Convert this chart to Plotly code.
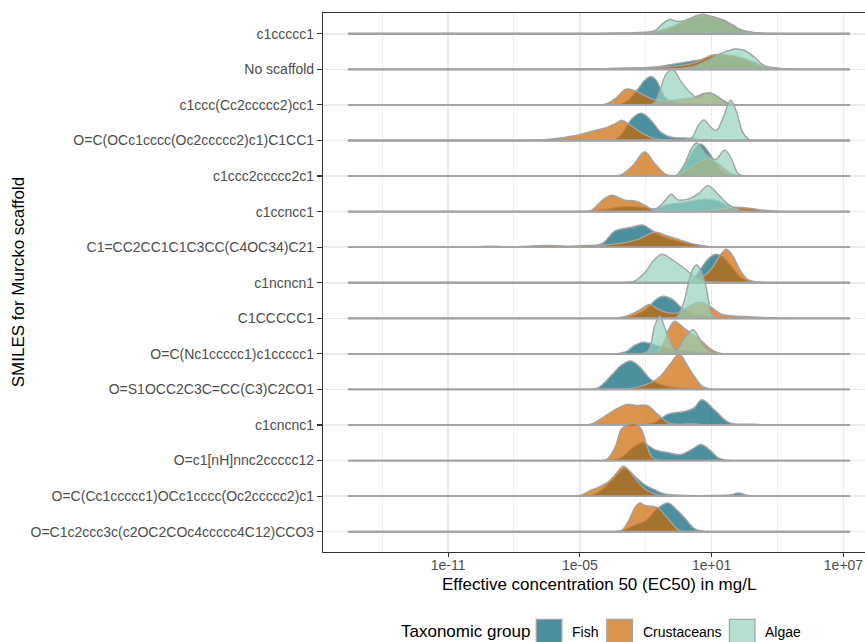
import numpy as np
import plotly.graph_objects as go

# ---------------- data ----------------
# Murcko scaffolds, top row first
CATEGORIES = [
    "c1ccccc1",
    "No scaffold",
    "c1ccc(Cc2ccccc2)cc1",
    "O=C(OCc1cccc(Oc2ccccc2)c1)C1CC1",
    "c1ccc2ccccc2c1",
    "c1ccncc1",
    "C1=CC2CC1C1C3CC(C4OC34)C21",
    "c1ncncn1",
    "C1CCCCC1",
    "O=C(Nc1ccccc1)c1ccccc1",
    "O=S1OCC2C3C=CC(C3)C2CO1",
    "c1cncnc1",
    "O=c1[nH]nnc2ccccc12",
    "O=C(Cc1ccccc1)OCc1cccc(Oc2ccccc2)c1",
    "O=C1c2ccc3c(c2OC2COc4ccccc4C12)CCO3",
]
GROUPS = ["Fish", "Crustaceans", "Algae"]
GROUP_COLORS = {
    "Fish": "rgba(0,95,115,0.7)",
    "Crustaceans": "rgba(202,103,2,0.7)",
    "Algae": "rgba(148,210,189,0.7)",
}

# full range (log10 mg/L) over which the ridgelines are drawn
LOG_MIN, LOG_MAX = -15.56, 7.30

X_TICKS = [-11, -5, 1, 7]
X_TICK_LABELS = ["1e-11", "1e-05", "1e+01", "1e+07"]
X_MINOR = [-14, -8, -2, 4]

# ridge profiles: (log10 EC50, scaled density height in row units)
FISH = {
    "c1ccccc1": [(-2.2, 0), (-1.6, 0.04), (-1.0, 0.14), (-0.4, 0.30), (0.2, 0.44), (0.6, 0.48), (1.2, 0.42), (1.8, 0.25), (2.5, 0.08), (3.2, 0.02), (3.8, 0)],
    "No scaffold": [(-6.0, 0), (-5.0, 0.01), (-3.0, 0.03), (-1.5, 0.07), (-0.8, 0.14), (0.0, 0.22), (0.5, 0.27), (1.0, 0.36), (1.5, 0.40), (2.0, 0.37), (2.5, 0.28), (3.0, 0.15), (3.5, 0.05), (4.3, 0.01), (5.0, 0)],
    "c1ccc(Cc2ccccc2)cc1": [(-3.2, 0), (-2.8, 0.12), (-2.35, 0.45), (-2.05, 0.69), (-1.77, 0.80), (-1.52, 0.69), (-1.29, 0.40), (-1.06, 0.17), (-0.5, 0.05), (0.5, 0.02), (1.5, 0)],
    "O=C(OCc1cccc(Oc2ccccc2)c1)C1CC1": [(-4.0, 0), (-3.3, 0.05), (-3.0, 0.25), (-2.65, 0.60), (-2.2, 0.77), (-1.74, 0.55), (-1.29, 0.22), (-0.83, 0.09), (-0.23, 0.07), (0.2, 0.05), (0.5, 0.01), (0.8, 0)],
    "c1ccc2ccccc2c1": [(-0.9, 0), (-0.61, 0.02), (-0.23, 0.28), (0.15, 0.72), (0.5, 0.90), (0.83, 0.70), (1.14, 0.40), (1.44, 0.13), (1.82, 0.02), (2.2, 0)],
    "c1ccncc1": [(-4.5, 0), (-3.86, 0.05), (-3.0, 0.13), (-2.2, 0.12), (-1.6, 0.08), (-1.14, 0.18), (-0.23, 0.26), (0.68, 0.35), (1.29, 0.30), (1.89, 0.12), (2.8, 0.06), (3.56, 0.03), (4.2, 0)],
    "C1=CC2CC1C1C3CC(C4OC34)C21": [(-4.6, 0), (-3.94, 0.12), (-3.41, 0.45), (-2.65, 0.56), (-2.12, 0.62), (-1.74, 0.48), (-1.36, 0.33), (-0.83, 0.22), (-0.23, 0.12), (0.38, 0.06), (1.0, 0)],
    "c1ncncn1": [(-0.3, 0), (0.08, 0.05), (0.53, 0.42), (0.91, 0.71), (1.21, 0.80), (1.5, 0.72), (1.9, 0.45), (2.3, 0.15), (2.7, 0.03), (3.1, 0)],
    "C1CCCCC1": [(-3.0, 0), (-2.5, 0.08), (-1.97, 0.25), (-1.59, 0.50), (-1.21, 0.62), (-0.76, 0.52), (-0.38, 0.30), (0.0, 0.15), (0.5, 0.08), (1.0, 0.03), (1.6, 0)],
    "O=C(Nc1ccccc1)c1ccccc1": [(-3.4, 0), (-2.88, 0.07), (-2.5, 0.24), (-2.12, 0.33), (-1.74, 0.28), (-1.29, 0.20), (-0.7, 0.12), (-0.2, 0.08), (0.4, 0.04), (1.0, 0.01), (1.4, 0)],
    "O=S1OCC2C3C=CC(C3)C2CO1": [(-4.7, 0), (-4.17, 0.05), (-3.56, 0.40), (-3.11, 0.68), (-2.68, 0.80), (-2.27, 0.63), (-1.89, 0.35), (-1.59, 0.20), (-1.14, 0.10), (-0.6, 0.04), (0.0, 0.01), (0.5, 0)],
    "c1cncnc1": [(-2.3, 0), (-1.63, 0.05), (-1.0, 0.30), (-0.23, 0.38), (0.2, 0.48), (0.55, 0.71), (1.17, 0.40), (1.79, 0.07), (2.87, 0.02), (3.5, 0)],
    "O=c1[nH]nnc2ccccc12": [(-3.6, 0), (-3.1, 0.08), (-2.7, 0.30), (-2.3, 0.46), (-2.12, 0.50), (-1.59, 0.31), (-0.98, 0.22), (-0.38, 0.17), (0.08, 0.31), (0.53, 0.45), (0.98, 0.26), (1.29, 0.08), (1.67, 0.01), (2.0, 0)],
    "O=C(Cc1ccccc1)OCc1cccc(Oc2ccccc2)c1": [(-4.8, 0), (-4.32, 0.04), (-3.56, 0.42), (-2.95, 0.77), (-2.5, 0.56), (-2.05, 0.32), (-1.59, 0.18), (-1.14, 0.06), (-0.23, 0.02), (1.0, 0.02), (1.89, 0.04), (2.2, 0.09), (2.65, 0.02), (3.0, 0)],
    "O=C1c2ccc3c(c2OC2COc4ccccc4C12)CCO3": [(-3.4, 0), (-2.95, 0.06), (-2.5, 0.18), (-2.0, 0.30), (-1.44, 0.67), (-0.98, 0.81), (-0.68, 0.67), (-0.23, 0.39), (0.23, 0.08), (0.68, 0.01), (1.0, 0)],
}

CRUSTACEANS = {
    "c1ccccc1": [(-4.0, 0), (-3.3, 0.02), (-2.5, 0.03), (-1.5, 0.08), (-0.8, 0.20), (-0.3, 0.34), (0.2, 0.45), (0.6, 0.53), (1.0, 0.48), (1.5, 0.40), (1.9, 0.27), (2.3, 0.12), (2.8, 0.04), (3.5, 0)],
    "No scaffold": [(-5.5, 0), (-5.0, 0.01), (-3.0, 0.03), (-1.5, 0.06), (-0.5, 0.10), (0.3, 0.20), (1.0, 0.40), (1.5, 0.42), (2.0, 0.38), (2.5, 0.30), (3.0, 0.18), (3.5, 0.08), (4.2, 0.02), (5.0, 0)],
    "c1ccc(Cc2ccccc2)cc1": [(-4.2, 0), (-3.8, 0.03), (-3.4, 0.17), (-2.9, 0.44), (-2.5, 0.40), (-2.05, 0.26), (-1.6, 0.14), (-1.1, 0.12), (-0.5, 0.15), (0.2, 0.22), (0.7, 0.33), (1.0, 0.32), (1.4, 0.18), (1.8, 0.04), (2.3, 0)],
    "O=C(OCc1cccc(Oc2ccccc2)c1)C1CC1": [(-7.5, 0), (-6.6, 0.02), (-5.8, 0.08), (-5.1, 0.15), (-4.3, 0.28), (-3.8, 0.36), (-3.3, 0.50), (-3.1, 0.57), (-2.65, 0.41), (-2.2, 0.22), (-1.74, 0.08), (-1.3, 0.02), (-0.8, 0)],
    "c1ccc2ccccc2c1": [(-3.5, 0), (-3.1, 0.04), (-2.58, 0.30), (-2.05, 0.68), (-1.59, 0.35), (-1.06, 0.04), (-0.6, 0.02), (-0.2, 0.15), (0.23, 0.32), (0.83, 0.49), (1.29, 0.35), (1.89, 0.07), (2.3, 0)],
    "c1ccncc1": [(-4.9, 0), (-4.47, 0.04), (-4.02, 0.30), (-3.56, 0.46), (-2.95, 0.32), (-2.5, 0.30), (-2.05, 0.18), (-1.74, 0.07), (-1.3, 0.02), (0.0, 0.02), (1.0, 0.04), (1.9, 0.12), (2.8, 0.09), (3.3, 0.04), (3.8, 0)],
    "C1=CC2CC1C1C3CC(C4OC34)C21": [(-10.3, 0), (-9.7, 0.01), (-9.1, 0.03), (-8.3, 0.01), (-7.3, 0.03), (-6.5, 0.05), (-5.6, 0.03), (-4.6, 0.05), (-3.9, 0.06), (-3.26, 0.10), (-2.35, 0.22), (-1.59, 0.42), (-0.98, 0.31), (-0.38, 0.19), (0.08, 0.10), (0.53, 0.04), (1.0, 0)],
    "c1ncncn1": [(0.1, 0), (0.53, 0.14), (0.98, 0.38), (1.36, 0.75), (1.67, 0.94), (1.97, 0.75), (2.27, 0.38), (2.65, 0.09), (3.11, 0.02), (3.6, 0)],
    "C1CCCCC1": [(-3.4, 0), (-2.95, 0.05), (-2.35, 0.21), (-1.82, 0.39), (-1.44, 0.26), (-1.0, 0.16), (-0.53, 0.16), (0.08, 0.38), (0.53, 0.45), (0.98, 0.31), (1.44, 0.12), (2.5, 0.05), (4.0, 0.01), (4.6, 0)],
    "O=C(Nc1ccccc1)c1ccccc1": [(-1.8, 0), (-1.5, 0.05), (-1.21, 0.28), (-0.91, 0.75), (-0.68, 0.92), (-0.3, 0.75), (0.08, 0.57), (0.45, 0.42), (0.83, 0.19), (1.14, 0.07), (1.5, 0)],
    "O=S1OCC2C3C=CC(C3)C2CO1": [(-3.0, 0), (-2.5, 0.05), (-1.74, 0.20), (-1.29, 0.40), (-0.91, 0.70), (-0.48, 0.99), (-0.15, 0.72), (0.23, 0.35), (0.61, 0.07), (0.98, 0.01), (1.3, 0)],
    "c1cncnc1": [(-4.9, 0), (-4.42, 0.04), (-3.49, 0.40), (-2.87, 0.58), (-2.4, 0.55), (-1.94, 0.55), (-1.47, 0.31), (-1.0, 0.07), (-0.5, 0.02), (0.1, 0.04), (0.6, 0.01), (1.0, 0)],
    "O=c1[nH]nnc2ccccc12": [(-4.2, 0), (-3.79, 0.03), (-3.41, 0.36), (-3.11, 0.88), (-2.8, 1.02), (-2.5, 1.04), (-2.2, 0.88), (-1.97, 0.45), (-1.74, 0.12), (-1.52, 0.02), (-1.2, 0)],
    "O=C(Cc1ccccc1)OCc1cccc(Oc2ccccc2)c1": [(-5.6, 0), (-5.0, 0.02), (-4.62, 0.13), (-4.17, 0.25), (-3.71, 0.40), (-3.33, 0.65), (-3.03, 0.84), (-2.8, 0.75), (-2.5, 0.51), (-2.05, 0.21), (-1.59, 0.06), (-1.1, 0.01), (-0.7, 0)],
    "O=C1c2ccc3c(c2OC2COc4ccccc4C12)CCO3": [(-3.5, 0), (-3.11, 0.03), (-2.8, 0.29), (-2.5, 0.67), (-2.27, 0.81), (-2.05, 0.74), (-1.74, 0.72), (-1.44, 0.67), (-1.14, 0.48), (-0.83, 0.25), (-0.53, 0.06), (-0.2, 0)],
}

ALGAE = {
    "c1ccccc1": [(-2.6, 0), (-2.0, 0.02), (-1.6, 0.08), (-1.2, 0.30), (-0.9, 0.40), (-0.6, 0.35), (-0.3, 0.36), (0.2, 0.48), (0.55, 0.55), (0.9, 0.50), (1.3, 0.43), (1.7, 0.30), (2.1, 0.16), (2.6, 0.06), (3.2, 0.01), (4.0, 0)],
    "No scaffold": [(-1.0, 0), (-0.3, 0.03), (0.3, 0.10), (0.8, 0.25), (1.3, 0.41), (1.7, 0.51), (2.05, 0.57), (2.5, 0.53), (2.95, 0.34), (3.4, 0.10), (4.0, 0.03), (4.6, 0)],
    "c1ccc(Cc2ccccc2)cc1": [(-1.8, 0), (-1.59, 0.07), (-1.36, 0.41), (-1.06, 0.88), (-0.76, 0.99), (-0.38, 0.64), (0.08, 0.31), (0.38, 0.20), (0.68, 0.31), (0.98, 0.33), (1.29, 0.22), (1.59, 0.08), (1.9, 0.01), (2.3, 0)],
    "O=C(OCc1cccc(Oc2ccccc2)c1)C1CC1": [(-0.2, 0), (0.1, 0.08), (0.38, 0.41), (0.65, 0.58), (0.98, 0.36), (1.21, 0.28), (1.52, 0.64), (1.86, 1.13), (2.12, 0.83), (2.42, 0.22), (2.73, 0.02), (3.0, 0)],
    "c1ccc2ccccc2c1": [(-0.9, 0), (-0.61, 0.02), (-0.23, 0.35), (0.1, 0.80), (0.32, 0.93), (0.68, 0.66), (0.98, 0.50), (1.2, 0.47), (1.59, 0.73), (1.89, 0.50), (2.2, 0.07), (2.5, 0)],
    "c1ccncc1": [(-1.9, 0), (-1.52, 0.07), (-1.14, 0.30), (-0.83, 0.49), (-0.53, 0.33), (-0.08, 0.35), (0.38, 0.49), (0.83, 0.73), (1.29, 0.49), (1.74, 0.21), (2.05, 0.10), (2.5, 0.01), (2.8, 0)],
    "c1ncncn1": [(-3.0, 0), (-2.5, 0.05), (-2.05, 0.28), (-1.59, 0.66), (-1.26, 0.80), (-0.83, 0.66), (-0.38, 0.47), (0.08, 0.24), (0.38, 0.09), (0.8, 0.02), (1.2, 0)],
    "C1CCCCC1": [(-0.9, 0), (-0.61, 0.02), (-0.3, 0.40), (-0.05, 1.0), (0.15, 1.40), (0.32, 1.50), (0.5, 1.35), (0.72, 0.95), (0.86, 0.50), (1.0, 0.12), (1.2, 0.01), (1.4, 0)],
    "O=C(Nc1ccccc1)c1ccccc1": [(-2.3, 0), (-1.89, 0.09), (-1.59, 0.80), (-1.36, 1.06), (-1.14, 0.75), (-0.91, 0.38), (-0.61, 0.09), (-0.23, 0.45), (0.15, 0.68), (0.45, 0.42), (0.68, 0.19), (0.98, 0.05), (1.3, 0)],
}

GROUP_DATA = {"Fish": FISH, "Crustaceans": CRUSTACEANS, "Algae": ALGAE}

# ---------------- figure ----------------
W, H = 865, 642
# panel edges in pixels: left 323.3, top 12.5, bottom 552; right edge runs past the window
ML, MR, MT = 323.3, 0, 12.5
MB = H - 552
PW, PH = W - ML - MR, H - MT - MB

def px(x):  # pixel -> paper x
    return (x - ML) / PW

def py(y):  # pixel -> paper y
    return (H - MB - y) / PH

n = len(CATEGORIES)
row_y = {cat: n - i for i, cat in enumerate(CATEGORIES)}

OUTLINE = "#A3A3A3"
FONT = "Liberation Sans, Arial, Helvetica, sans-serif"
TICK_SIZE = 14

fig = go.Figure()
for cat in CATEGORIES:
    y0 = row_y[cat]
    for g in GROUPS:
        pts = GROUP_DATA[g].get(cat)
        if not pts:
            continue
        # filled ridge with its outline
        fig.add_trace(go.Scatter(
            x=10.0 ** np.array([p[0] for p in pts]),
            y=y0 + np.array([p[1] for p in pts]),
            mode="lines",
            fill="toself",
            fillcolor=GROUP_COLORS[g],
            line=dict(color=OUTLINE, width=1.4, shape="spline", smoothing=1.0),
            hoverinfo="skip",
            showlegend=False,
        ))
        # the ridgeline's flat part over the full data range
        fig.add_trace(go.Scatter(
            x=[10.0 ** LOG_MIN, 10.0 ** LOG_MAX],
            y=[y0, y0],
            mode="lines",
            line=dict(color=OUTLINE, width=1.8),
            hoverinfo="skip",
            showlegend=False,
        ))

fig.update_layout(
    width=W, height=H,
    margin=dict(l=ML, r=MR, t=MT, b=MB, pad=0),
    paper_bgcolor="white", plot_bgcolor="white",
    font=dict(family=FONT, size=TICK_SIZE, color="#4D4D4D"),
    showlegend=False,
    hovermode=False,
    xaxis=dict(
        type="log",
        range=[-16.695, 7.98],
        tickmode="array",
        tickvals=[10.0 ** t for t in X_TICKS],
        ticktext=X_TICK_LABELS,
        ticks="outside", ticklen=4, tickwidth=1.1, tickcolor="#333333",
        tickfont=dict(size=TICK_SIZE, color="#4D4D4D", family=FONT),
        ticklabelstandoff=-4,
        ticklabeloverflow="allow",
        showgrid=True, gridcolor="#EBEBEB", gridwidth=1.5,
        minor=dict(tickmode="array", tickvals=[10.0 ** t for t in X_MINOR],
                   showgrid=True, gridcolor="#EBEBEB", gridwidth=0.8, ticks=""),
        showline=True, linecolor="#333333", linewidth=1.1, mirror=True,
        zeroline=False, automargin=False,
    ),
    yaxis=dict(
        range=[0.430, 15.584],
        tickmode="array",
        tickvals=[row_y[c] for c in CATEGORIES],
        ticktext=CATEGORIES,
        ticks="outside", ticklen=5, tickwidth=1.1, tickcolor="#333333",
        tickfont=dict(size=TICK_SIZE, color="#4D4D4D", family=FONT),
        showgrid=True, gridcolor="#EBEBEB", gridwidth=1.5,
        showline=True, linecolor="#333333", linewidth=1.1, mirror=False,
        zeroline=False, automargin=False,
    ),
)

annotations = [
    dict(text="Effective concentration 50 (EC50) in mg/L", xref="paper", yref="paper",
         x=px(599.5), y=py(585), xanchor="center", yanchor="middle", showarrow=False,
         font=dict(size=17, color="black", family=FONT)),
    dict(text="SMILES for Murcko scaffold", xref="paper", yref="paper",
         x=px(18.5), y=py(282), xanchor="center", yanchor="middle", showarrow=False,
         textangle=-90, font=dict(size=17, color="black", family=FONT)),
    dict(text="Taxonomic group", xref="paper", yref="paper",
         x=px(399.5), y=py(632), xanchor="left", yanchor="middle", showarrow=False,
         font=dict(size=17, color="black", family=FONT)),
]
shapes = []
legend_boxes = {"Fish": (536.5, 570.5), "Crustaceans": (607, 641.5), "Algae": (729.5, 763)}
for g in GROUPS:
    bx, tx = legend_boxes[g]
    shapes.append(dict(type="rect", xref="paper", yref="paper",
                       x0=px(bx), x1=px(bx + 25.5), y0=py(619.5), y1=py(645),
                       fillcolor=GROUP_COLORS[g], line=dict(color=OUTLINE, width=1.3)))
    annotations.append(dict(text=g, xref="paper", yref="paper", x=px(tx), y=py(632),
                            xanchor="left", yanchor="middle", showarrow=False,
                            font=dict(size=TICK_SIZE, color="black", family=FONT)))

fig.update_layout(annotations=annotations, shapes=shapes)

fig.write_html(
    "out.html",
    config={"displayModeBar": False, "staticPlot": True},
    post_script="document.body.style.margin='0px';document.body.style.overflow='hidden';",
)
